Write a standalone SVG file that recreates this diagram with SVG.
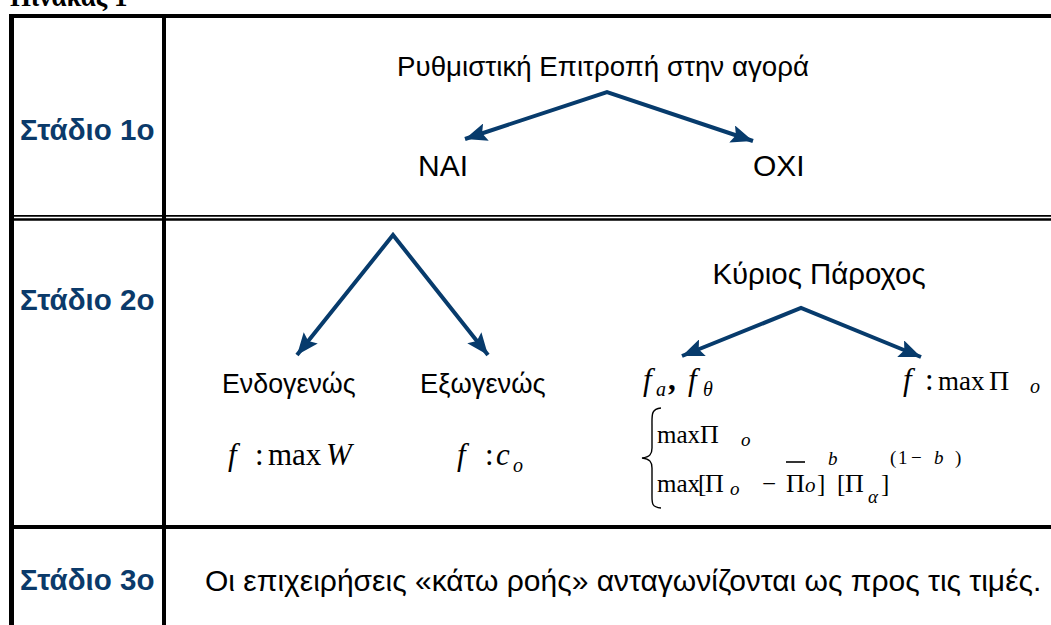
<svg xmlns="http://www.w3.org/2000/svg" width="1051" height="625" viewBox="0 0 1051 625">
  <defs>
    <marker id="head" viewBox="0 0 22 18" refX="22" refY="9" markerWidth="22" markerHeight="18" markerUnits="userSpaceOnUse" orient="auto-start-reverse">
      <path d="M0,0 L22,9 L0,18 L4,9 Z" fill="#073b6c"/>
    </marker>
    <style>
      .rule { stroke: #000; fill: none; }
      .stage { font-family: "Liberation Sans", Arial, sans-serif; font-weight: bold; font-size: 29.5px; fill: #0b3a6a; }
      .lbl { font-family: "Liberation Sans", Arial, sans-serif; font-size: 28px; fill: #000; }
      .math { font-family: "Liberation Serif", "Times New Roman", serif; font-size: 31px; fill: #000; }
      .eq { font-family: "Liberation Serif", "Times New Roman", serif; font-size: 25px; fill: #000; }
      .it { font-style: italic; }
      .sm { font-size: 20px; }
      .xs { font-size: 19px; }
      .conn { stroke: #073b6c; stroke-width: 4; fill: none; stroke-linejoin: miter; }
    </style>
  </defs>
  <rect width="1051" height="625" fill="#fff"/>

  <!-- table caption, clipped by the top edge -->
  <text x="10" y="6" font-family="Liberation Serif, serif" font-weight="bold" font-size="27">Πίνακας 1</text>

  <!-- table rules -->
  <g id="table">
    <line class="rule" x1="9" y1="16" x2="1051" y2="16" stroke-width="4"/>
    <line class="rule" x1="11.5" y1="14" x2="11.5" y2="625" stroke-width="5"/>
    <line class="rule" x1="164" y1="14" x2="164" y2="625" stroke-width="4"/>
    <line class="rule" x1="9" y1="215.8" x2="1051" y2="215.8" stroke-width="1.8"/>
    <line class="rule" x1="9" y1="219.5" x2="1051" y2="219.5" stroke-width="2.4"/>
    <line class="rule" x1="9" y1="527" x2="1051" y2="527" stroke-width="4"/>
  </g>

  <!-- stage labels -->
  <g id="stage1"><text class="stage" x="20" y="140">Στάδιο 1ο</text></g>
  <g id="stage2"><text class="stage" x="20" y="310">Στάδιο 2ο</text></g>
  <g id="stage3"><text class="stage" x="20" y="590">Στάδιο 3ο</text></g>

  <!-- stage 1 -->
  <g id="regulator"><text class="lbl" x="603" y="76" text-anchor="middle" style="font-size:27.7px">Ρυθμιστική Επιτροπή στην αγορά</text></g>
  <g id="yes"><text class="lbl" x="418" y="176" style="font-size:30px">NAI</text></g>
  <g id="no"><text class="lbl" x="753" y="176" style="font-size:30px">OXI</text></g>

  <!-- stage 2, left tree -->
  <g id="endogenous">
    <text class="lbl" x="222" y="393" style="font-size:26.8px">Ενδογενώς</text>
    <text class="math" y="465"><tspan class="it" x="228">f</tspan><tspan x="255">:</tspan><tspan x="268">max</tspan><tspan class="it" x="326">W</tspan></text>
  </g>
  <g id="exogenous">
    <text class="lbl" x="420" y="393" style="font-size:27.3px">Εξωγενώς</text>
    <text class="math" y="465"><tspan class="it" x="457">f</tspan><tspan x="485">:</tspan><tspan class="it" x="496">c</tspan><tspan class="it sm" x="513" y="472">o</tspan></text>
  </g>

  <!-- stage 2, right tree -->
  <g id="incumbent"><text class="lbl" x="819" y="284" text-anchor="middle" style="font-size:29.4px">Κύριος Πάροχος</text></g>
  <g id="fees">
    <text class="math" y="390"><tspan class="it" x="643">f</tspan><tspan class="it sm" x="656" y="396">a</tspan><tspan x="668" y="390" font-weight="bold">,</tspan><tspan class="it" x="688">f</tspan><tspan class="it sm" x="703" y="396">θ</tspan></text>
    <path d="M661,408 C651,409 652,415 652,425 L652,448 C652,454 650,457 642,458 C650,459 652,462 652,468 L652,493 C652,503 651,507 661,508" fill="none" stroke="#000" stroke-width="1.4"/>
    <text class="eq" y="443"><tspan x="657">max</tspan><tspan x="700" font-size="26">Π</tspan><tspan class="it xs" x="741" y="446">o</tspan></text>
    <text class="eq" y="492"><tspan x="657">max</tspan><tspan x="698">[</tspan><tspan x="705" font-size="26">Π</tspan><tspan class="it xs" x="730" y="495">o</tspan><tspan x="762" y="492">−</tspan><tspan x="786" font-size="26">Π</tspan><tspan class="it" x="805" font-size="21">o</tspan><tspan x="817">]</tspan><tspan class="it xs" x="828" y="465">b</tspan><tspan x="837" y="492">[</tspan><tspan x="845" font-size="26">Π</tspan><tspan class="it xs" x="868" y="503">α</tspan><tspan x="881" y="492">]</tspan><tspan class="xs" x="890" y="464">(</tspan><tspan class="xs" x="898">1</tspan><tspan class="xs" x="911">−</tspan><tspan class="it xs" x="934">b</tspan><tspan class="xs" x="955">)</tspan></text>
    <line x1="786" y1="462" x2="805" y2="462" stroke="#000" stroke-width="1.6"/>
  </g>
  <g id="max-profit">
    <text class="math" y="390"><tspan class="it" x="903">f</tspan><tspan x="925">:</tspan><tspan x="938" font-size="27">max</tspan><tspan x="989" font-size="28">Π</tspan><tspan class="it sm" x="1030" y="393">o</tspan></text>
  </g>

  <!-- stage 3 -->
  <g id="competition"><text class="lbl" x="205" y="591" style="font-size:30px">Οι επιχειρήσεις «κάτω ροής» ανταγωνίζονται ως προς τις τιμές.</text></g>

  <!-- connectors -->
  <g id="connectors">
    <polyline class="conn" points="465,139 607,92 753,141" marker-start="url(#head)" marker-end="url(#head)"/>
    <polyline class="conn" points="297,355 393,235 488,355" marker-start="url(#head)" marker-end="url(#head)"/>
    <polyline class="conn" points="682,356 801,308 921,357" marker-start="url(#head)" marker-end="url(#head)"/>
  </g>
</svg>
